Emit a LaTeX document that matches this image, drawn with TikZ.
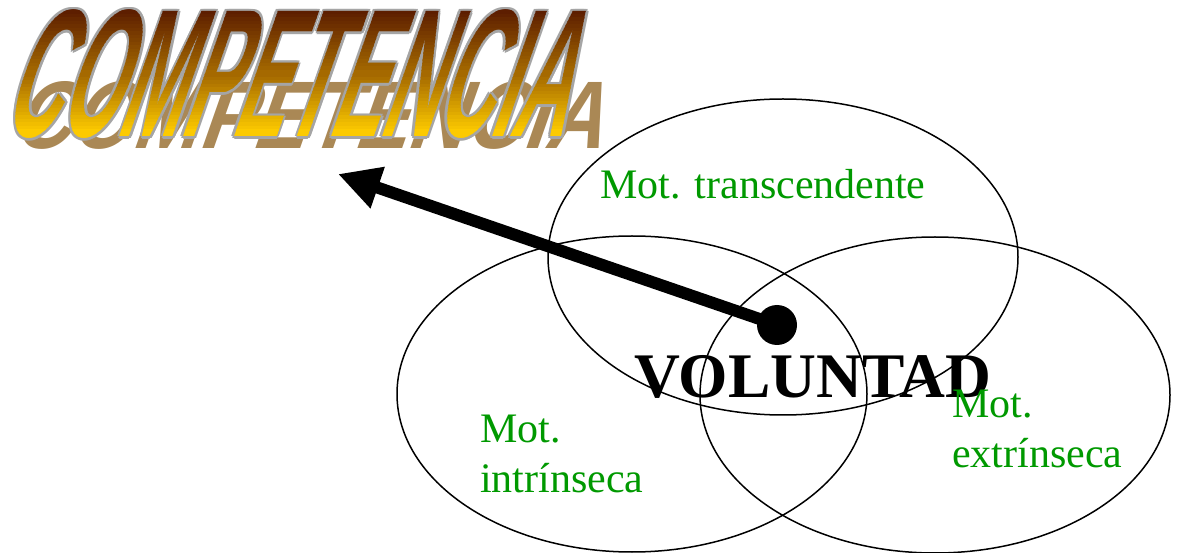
\documentclass[tikz,border=0pt]{standalone}
\usepackage{fontspec}
\setmainfont{Liberation Serif}
\newfontfamily\titlefont{Liberation Sans}
\usetikzlibrary{arrows.meta,shapes.geometric}
\definecolor{motgreen}{RGB}{0,153,0}
\definecolor{tdark}{RGB}{85,22,0}
\definecolor{tmid}{RGB}{165,105,0}
\definecolor{tgold}{RGB}{252,202,0}
\definecolor{tshadow}{RGB}{170,136,85}
\definecolor{toutline}{RGB}{165,165,165}
\newcommand\comptext{\titlefont\bfseries\fontsize{60}{60}\selectfont COMPETENCIA}
\tikzset{
  titleshape/.style={inner sep=0pt, xslant=0.35, xscale=1.27, yscale=3.03},
  venn/.style={ellipse, draw, line width=1.5pt, minimum width=470pt, minimum height=316pt, inner sep=0pt},
  mot/.style={text=motgreen, inner sep=0pt, align=left, font=\fontsize{42}{50}\selectfont},
}
\begin{document}
\begin{tikzpicture}[x=1pt, y=-1pt]
\useasboundingbox (0,0) rectangle (1179,553);
% ellipses
\node[venn] (trans) at (783,257) {};
\node[venn] (intr) at (632,394) {};
\node[venn] (extr) at (935,395) {};
% title shadow
\node[inner sep=0pt, xslant=0.35, xscale=1.33, yscale=1.6, anchor=base, text=tshadow] (tshadowtxt) at (306,149) {\comptext};
% title outline
\coordinate (titlec) at (304,74);
\foreach \dx/\dy [count=\i] in {-2.5/0,2.5/0,0/-2.5,0/2.5,-1.8/-1.8,1.8/-1.8,-1.8/1.8,1.8/1.8} {
  \node[titleshape, text=toutline] (tout\i) at ([shift={(\dx,\dy)}]titlec) {\comptext};
}
% title gradient fill, drawn in thin horizontal bands
\foreach \i in {0,...,39} {
  \pgfmathsetmacro{\ya}{4+\i*3.5}
  \pgfmathsetmacro{\yb}{\ya+4}
  \ifnum\i<20
    \pgfmathtruncatemacro{\p}{\i*100/19}
    \colorlet{bandc}{tmid!\p!tdark}
  \else
    \pgfmathtruncatemacro{\p}{(\i-20)*100/16}
    \ifnum\p>100 \def\p{100}\fi
    \colorlet{bandc}{tgold!\p!tmid}
  \fi
  \begin{scope}
    \clip (0,\ya) rectangle (620,\yb);
    \node[titleshape, text=bandc] (tband\i) at (titlec) {\comptext};
  \end{scope}
}
% arrow and dot
\node[circle, fill=black, minimum size=40pt, inner sep=0pt] (dot) at (777,325) {};
\coordinate (tip) at (338,174);
\draw[line width=12pt, -{Triangle[length=42pt, width=41pt]}] (dot.center) -- (tip);
% texts
\node[anchor=base west, inner sep=0pt, font=\fontsize{63.5}{63.5}\selectfont\bfseries] (vol) at (634,398) {VOLUNTAD};
\node[mot, anchor=base west] (mtrans) at (600,199) {Mot. transcendente};
\node[mot, anchor=north west] (mintr) at (480,415) {Mot.\\intrínseca};
\node[mot, anchor=north west] (mextr) at (952,390) {Mot.\\extrínseca};
\end{tikzpicture}
\end{document}
